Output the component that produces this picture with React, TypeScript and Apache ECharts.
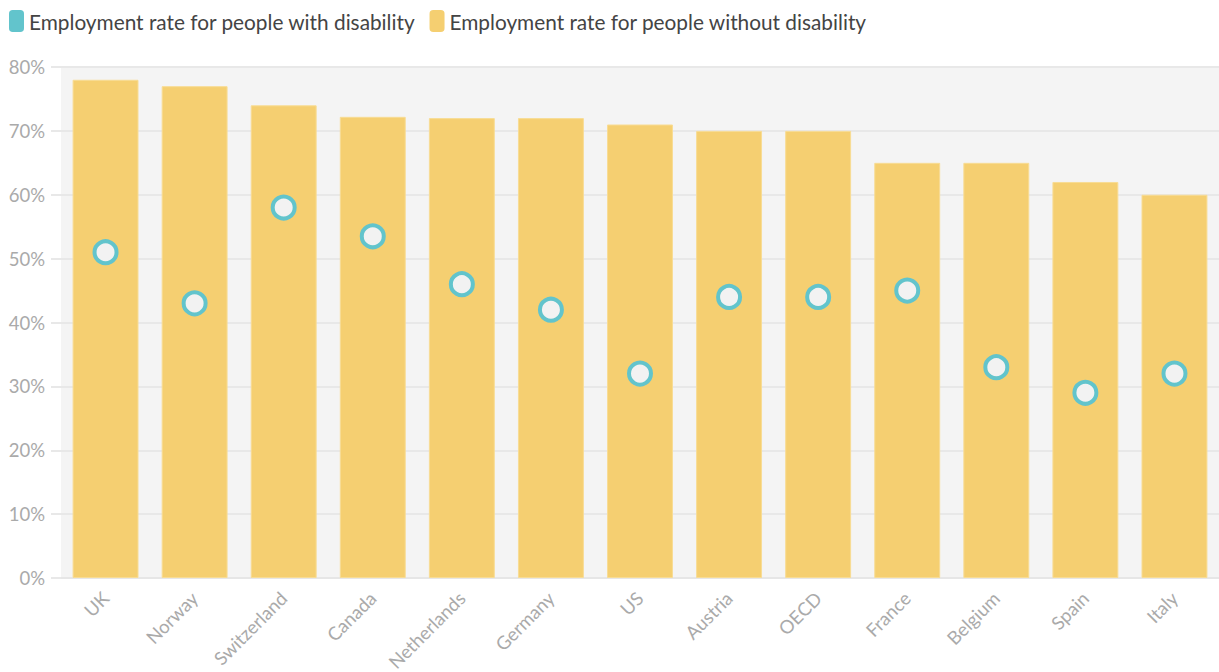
import React, { useEffect, useRef } from "react";
import * as echarts from "echarts";

const categories = ["UK", "Norway", "Switzerland", "Canada", "Netherlands", "Germany", "US", "Austria", "OECD", "France", "Belgium", "Spain", "Italy"];
const withoutDisability = [78, 77, 74, 72.2, 72, 72, 71, 70, 70, 65, 65, 62, 60];
const withDisability = [51, 43, 58, 53.5, 46, 42, 32, 44, 44, 45, 33, 29, 32];
const yTicks = [0, 10, 20, 30, 40, 50, 60, 70, 80];

const FONT = "Lato";

export default function App() {
  const ref = useRef<HTMLDivElement>(null);
  useEffect(() => {
    if (!ref.current) return;
    const chart = echarts.init(ref.current, undefined, { renderer: "svg" });
    chart.setOption({
      animation: false,
      textStyle: { fontFamily: FONT },
      legend: {
        left: 9,
        top: 10,
        padding: 0,
        itemWidth: 15,
        itemHeight: 22,
        itemGap: 14,
        icon: "roundRect",
        textStyle: { fontSize: 20.8, color: "#444", fontFamily: FONT },
        data: [
          { name: "Employment rate for people with disability", itemStyle: { color: "#62c4cc", borderWidth: 0 } },
          { name: "Employment rate for people without disability", itemStyle: { color: "#f5cf71", borderWidth: 0 } },
        ],
      },
      grid: {
        left: 61,
        right: 0,
        top: 67,
        bottom: 94,
        show: true,
        backgroundColor: "#f4f4f4",
        borderWidth: 0,
        containLabel: false,
        outerBoundsMode: "none",
      },
      xAxis: {
        type: "category",
        data: categories,
        axisLine: { lineStyle: { color: "#e6e6e6", width: 2 } },
        axisTick: { alignWithLabel: true, length: 10, lineStyle: { color: "#e6e6e6", width: 2 } },
        axisLabel: { rotate: 45, color: "#aaa", fontSize: 18.5, margin: 17, fontFamily: FONT },
      },
      yAxis: {
        type: "value",
        min: yTicks[0],
        max: yTicks[yTicks.length - 1],
        interval: 10,
        axisLine: { show: false },
        axisTick: { show: true, length: 10, lineStyle: { color: "#e8e8e8", width: 2 } },
        axisLabel: { color: "#aaa", fontSize: 18.5, margin: 16, formatter: "{value}%", fontFamily: FONT },
        splitLine: { lineStyle: { color: "#e8e8e8", width: 2 } },
      },
      series: [
        {
          name: "Employment rate for people without disability",
          type: "bar",
          data: withoutDisability,
          barWidth: "74%",
          itemStyle: { color: "#f5cf71", borderColor: "#f8dc94", borderWidth: 1 },
          z: 2,
        },
        {
          name: "Employment rate for people with disability",
          type: "scatter",
          data: withDisability,
          symbol: "circle",
          symbolSize: 22,
          itemStyle: { color: "#f2f2f2", borderColor: "#62c4cc", borderWidth: 4, opacity: 1 },
          z: 3,
        },
      ],
    });
    return () => chart.dispose();
  }, []);
  return <div ref={ref} style={{ position: "fixed", left: 0, top: 0, width: 1219, height: 672, background: "#fff" }} />;
}
